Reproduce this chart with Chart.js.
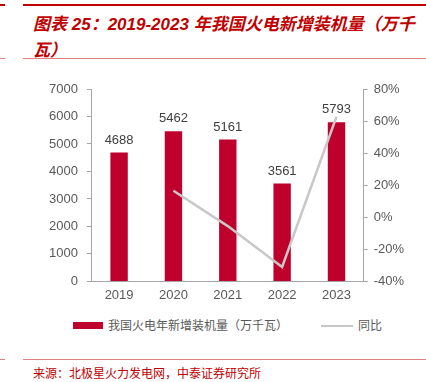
<!DOCTYPE html>
<html><head><meta charset="utf-8">
<script src="https://cdn.jsdelivr.net/npm/chart.js@4/dist/chart.umd.min.js"></script>
<style>
body{margin:0;width:426px;height:382px;background:#fff;position:relative;overflow:hidden;font-family:"Liberation Sans","Noto Sans CJK SC",sans-serif;}
.t{position:absolute;left:33px;color:#c00000;font-weight:bold;font-style:italic;font-size:17px;white-space:nowrap;font-family:"Liberation Sans","Noto Sans CJK SC",sans-serif;}
.ln{position:absolute;height:0;}
#wrap{position:absolute;left:0;top:62px;width:426px;height:247px;}
.lg{position:absolute;top:316px;font-size:12px;color:#595959;font-family:"Noto Sans CJK SC",sans-serif;white-space:nowrap;}
.src{position:absolute;left:33px;top:364px;font-size:12px;color:#c00000;font-family:"Noto Sans CJK SC",sans-serif;white-space:nowrap;}
</style></head><body>
<div class="ln" style="left:0;width:5px;top:4px;border-top:2px solid #c00000"></div>
<div class="ln" style="left:23px;width:403px;top:4px;border-top:2px solid #c00000"></div>
<div class="t" style="top:10px">图表 25：2019-2023 年我国火电新增装机量（万千</div>
<div class="t" style="top:36px">瓦）</div>
<div class="ln" style="left:0;width:5px;top:58px;border-top:1px solid #e08080"></div>
<div class="ln" style="left:23px;width:403px;top:58px;border-top:1px solid #e08080"></div>
<div id="wrap"><canvas id="c"></canvas></div>
<div style="position:absolute;left:73px;top:322px;width:30px;height:7px;background:#c0002c"></div>
<div class="lg" style="left:108px">我国火电年新增装机量（万千瓦）</div>
<div style="position:absolute;left:321px;top:325px;width:32px;height:0;border-top:2px solid #c8c8c8"></div>
<div class="lg" style="left:358px">同比</div>
<div class="ln" style="left:0;width:5px;top:359px;border-top:1px solid #e08080"></div>
<div class="ln" style="left:23px;width:403px;top:359px;border-top:1px solid #e08080"></div>
<div class="src">来源：北极星火力发电网，中泰证券研究所</div>
<script>
const categories = ["2019","2020","2021","2022","2023"];
const capacity = [4688,5462,5161,3561,5793];
const yoy = [null,16.5,-5.5,-31.0,62.7];
const leftTicks = [0,1000,2000,3000,4000,5000,6000,7000];
const rightTicks = [-40,-20,0,20,40,60,80];

const labelPlugin = {
  id:'barLabels',
  afterDatasetsDraw(chart){
    const ctx = chart.ctx;
    const meta = chart.getDatasetMeta(0);
    ctx.save();
    ctx.font = '13px "Liberation Sans", Arial, sans-serif';
    ctx.fillStyle = '#404040';
    ctx.textAlign = 'center';
    ctx.textBaseline = 'bottom';
    meta.data.forEach((el,i)=>{ ctx.fillText(String(capacity[i]), el.x, el.y-6); });
    ctx.restore();
  }
};

new Chart(document.getElementById('c'),{
  data:{
    labels:categories,
    datasets:[
      {type:'bar',label:'我国火电年新增装机量（万千瓦）',data:capacity,backgroundColor:'#c0002c',yAxisID:'y',barPercentage:0.32,categoryPercentage:1,order:2},
      {type:'line',label:'同比',data:yoy,borderColor:'#c8c8c8',borderWidth:2.5,pointRadius:0,yAxisID:'y1',tension:0,order:1,spanGaps:false}
    ]
  },
  options:{
    responsive:true,maintainAspectRatio:false,animation:false,
    layout:{padding:{left:40,right:16,top:27,bottom:0}},
    plugins:{legend:{display:false},tooltip:{enabled:false}},
    scales:{
      x:{grid:{display:false,drawTicks:false},border:{color:'#a6a6a6',width:1},
         ticks:{color:'#595959',font:{size:13,family:'"Liberation Sans", Arial, sans-serif'},padding:6}},
      y:{position:'left',min:0,max:7000,afterBuildTicks(ax){ax.ticks=leftTicks.map(v=>({value:v}));},
         grid:{display:true,drawOnChartArea:false,drawTicks:true,tickLength:5,color:'#a6a6a6'},
         border:{color:'#a6a6a6',width:1},
         ticks:{color:'#595959',font:{size:13,family:'"Liberation Sans", Arial, sans-serif'},padding:9,callback:v=>String(v)}},
      y1:{position:'right',min:-40,max:80,afterBuildTicks(ax){ax.ticks=rightTicks.map(v=>({value:v}));},
         grid:{display:true,drawOnChartArea:false,drawTicks:true,tickLength:4,color:'#a6a6a6'},
         border:{color:'#a6a6a6',width:1},
         ticks:{color:'#595959',font:{size:13,family:'"Liberation Sans", Arial, sans-serif'},padding:6,callback:v=>v+'%'}}
    }
  },
  plugins:[labelPlugin]
});
</script>
</body></html>
